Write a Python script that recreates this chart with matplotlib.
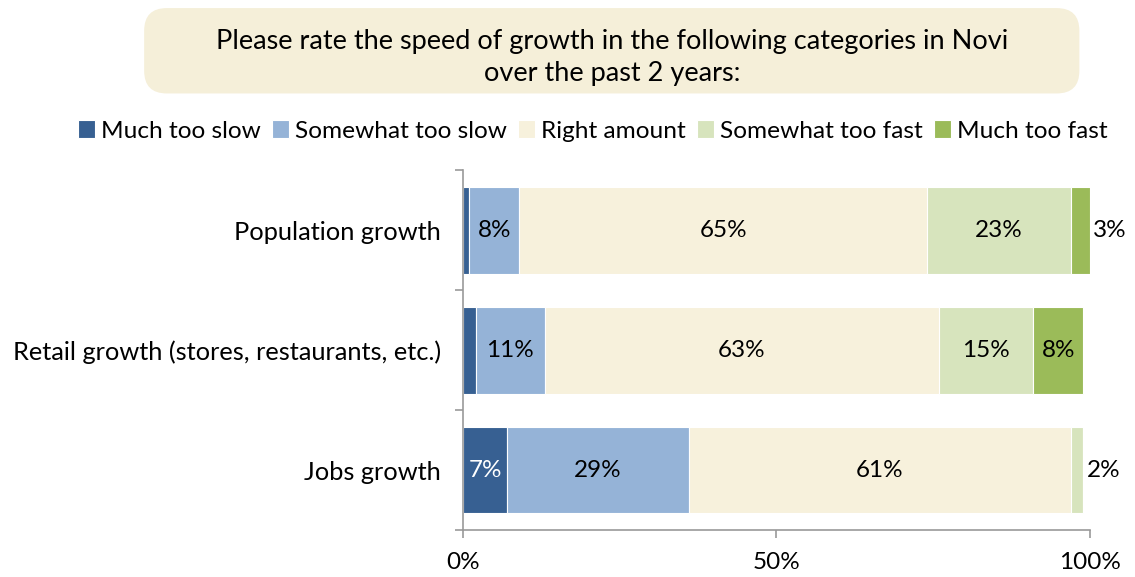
import matplotlib.pyplot as plt
from matplotlib.patches import FancyBboxPatch

plt.rcParams['font.family'] = ['Lato', 'DejaVu Sans']

# data
categories = ['Population growth', 'Retail growth (stores, restaurants, etc.)', 'Jobs growth']
series = ['Much too slow', 'Somewhat too slow', 'Right amount', 'Somewhat too fast', 'Much too fast']
much_slow = [1, 2, 7]
some_slow = [8, 11, 29]
right_amt = [65, 63, 61]
some_fast = [23, 15, 2]
much_fast = [3, 8, 0]
colors = ['#376092', '#95B3D7', '#F7F1DC', '#D7E4BD', '#9BBB59']
text_colors = ['white', 'black', 'black', 'black', 'black']

values = [much_slow, some_slow, right_amt, some_fast, much_fast]

fig = plt.figure(figsize=(11.35, 5.77), dpi=100)
ax = fig.add_axes([0.408, 0.0815, 0.552, 0.6235])

ypos = list(range(len(categories)))
left = [0] * len(categories)
for vals, name, col, tc in zip(values, series, colors, text_colors):
    bars = ax.barh(ypos, vals, left=left, height=0.725, color=col,
                   edgecolor='white', linewidth=0.8, label=name)
    for i, v in enumerate(vals):
        if v >= 5:
            ax.text(left[i] + v / 2, i, f'{v}%', ha='center', va='center',
                    fontsize=17.5, color=tc)
        elif v >= 2 and name in ('Much too fast', 'Somewhat too fast'):
            ax.text(left[i] + v + 0.6, i, f'{v}%', ha='left', va='center',
                    fontsize=17.5, color='black')
    left = [l + v for l, v in zip(left, vals)]

ax.set_xlim(0, 100)
ax.set_ylim(2.5, -0.5)
ax.set_xticks([0, 50, 100])
ax.set_xticklabels(['0%', '50%', '100%'], fontsize=17.5)
ax.set_yticks(ypos)
ax.set_yticklabels(categories, fontsize=18.3)
ax.set_yticks([-0.5, 0.5, 1.5, 2.5], minor=True)
ax.tick_params(axis='y', which='major', length=0, pad=16)
ax.tick_params(axis='y', which='minor', length=6, color='#999999', width=1.2)
ax.tick_params(axis='x', length=6, color='#999999', width=1.2, pad=10)
for s in ['top', 'right']:
    ax.spines[s].set_visible(False)
for s in ['left', 'bottom']:
    ax.spines[s].set_color('#999999')
    ax.spines[s].set_linewidth(1.2)

# legend
fig.legend(loc='center', bbox_to_anchor=(0.522, 0.773), ncol=5, frameon=False,
           fontsize=17.6, handlelength=0.7, handleheight=0.7, handletextpad=0.25,
           columnspacing=0.45)

# title box
box = FancyBboxPatch((0.127, 0.838), 0.824, 0.148, boxstyle='round,pad=0,rounding_size=0.02',
                     transform=fig.transFigure, facecolor='#F5EFD9', edgecolor='none',
                     mutation_aspect=1.97)
fig.patches.append(box)
fig.text(0.539, 0.9, 'Please rate the speed of growth in the following categories in Novi\nover the past 2 years:',
         ha='center', va='center', fontsize=19.5, linespacing=1.35)

plt.savefig('out.png', dpi=100)
